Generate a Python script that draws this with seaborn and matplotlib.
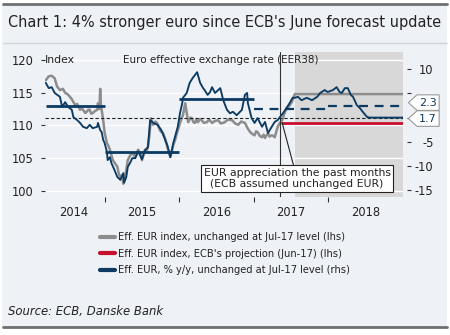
import matplotlib
matplotlib.use("Agg")
import matplotlib.pyplot as plt
import matplotlib.transforms as mtransforms
from matplotlib.lines import Line2D
from matplotlib.patches import Rectangle
from matplotlib.path import Path
import numpy as np
import pandas as pd
import seaborn as sns

# ---------------- data ----------------
# Effective EUR index (EER-38, lhs); after mid-July 2017 held at the Jul-17 level
idx_t = [2014.21, 2014.25, 2014.29, 2014.33, 2014.36, 2014.40, 2014.44, 2014.47, 2014.51, 2014.54,
         2014.56, 2014.58, 2014.61, 2014.63, 2014.67, 2014.69, 2014.71, 2014.74, 2014.76, 2014.78,
         2014.80, 2014.82, 2014.84, 2014.87, 2014.90, 2014.91, 2014.93, 2014.94, 2014.95, 2014.96, 2014.98,
         2015.00, 2015.03, 2015.05, 2015.07, 2015.09, 2015.11, 2015.14, 2015.17, 2015.19, 2015.21,
         2015.23, 2015.25, 2015.27, 2015.29, 2015.31, 2015.34, 2015.37, 2015.41, 2015.43, 2015.45,
         2015.48, 2015.50, 2015.52, 2015.54, 2015.56, 2015.58, 2015.60, 2015.62, 2015.64, 2015.65,
         2015.68, 2015.70, 2015.72, 2015.74, 2015.76, 2015.78, 2015.81, 2015.84, 2015.86, 2015.88,
         2015.90, 2015.92, 2015.95, 2015.97, 2015.99,
         2016.01, 2016.03, 2016.05, 2016.08, 2016.10, 2016.12, 2016.15, 2016.17, 2016.19, 2016.21,
         2016.23, 2016.25, 2016.28, 2016.30, 2016.33, 2016.37, 2016.40, 2016.44, 2016.48, 2016.52,
         2016.56, 2016.61, 2016.65, 2016.71, 2016.75, 2016.79, 2016.83, 2016.88, 2016.92, 2016.95,
         2016.98,
         2017.01, 2017.03, 2017.05, 2017.08, 2017.11, 2017.13, 2017.15, 2017.17, 2017.19, 2017.21,
         2017.24, 2017.26, 2017.28, 2017.30, 2017.32, 2017.35, 2017.38, 2017.41, 2017.44, 2017.47,
         2017.51, 2017.53, 2017.55, 2019.00]
idx_v = [116.9, 117.5, 117.6, 117.2, 116.0, 115.4, 115.6, 115.0, 114.7, 114.3,
         114.0, 113.6, 113.0, 113.3, 112.4, 112.6, 112.4, 111.9, 112.1, 112.4,
         112.4, 111.8, 111.9, 112.2, 112.4, 113.4, 112.5, 115.6, 112.9, 112.4, 110.8,
         108.9, 107.3, 106.9, 106.3, 105.5, 104.7, 104.2, 103.7, 102.6, 102.1,
         102.4, 101.1, 102.0, 103.2, 104.7, 105.4, 105.8, 105.2, 105.9, 106.3,
         105.6, 104.7, 105.5, 106.3, 106.0, 106.7, 108.5, 111.1, 110.4, 110.1,
         110.6, 110.4, 109.9, 109.3, 109.0, 108.9, 108.0, 106.7, 106.0, 105.2,
         106.0, 107.0, 108.0, 108.9, 109.6,
         110.4, 111.0, 111.6, 113.4, 112.0, 110.5, 111.2, 111.1, 110.5, 110.4,
         110.9, 110.5, 111.0, 110.8, 110.4, 110.5, 110.9, 110.4, 110.7, 110.8,
         110.3, 110.5, 110.9, 110.8, 110.3, 110.1, 110.6, 110.4, 109.5, 109.0,
         108.7,
         108.5, 109.1, 109.0, 108.4, 108.2, 108.6, 108.1, 108.5, 108.8, 108.3,
         108.5, 108.4, 108.2, 109.0, 109.8, 110.4, 110.8, 111.8, 112.7, 112.9,
         113.6, 114.2, 114.8, 114.8]

# Effective EUR, % y/y (rhs)
yoy_t = [2014.21, 2014.25, 2014.29, 2014.33, 2014.40, 2014.43, 2014.47, 2014.51, 2014.56, 2014.58,
         2014.63, 2014.67, 2014.71, 2014.76, 2014.80, 2014.84, 2014.90, 2014.91, 2014.94, 2014.96, 2014.98,
         2015.00, 2015.03, 2015.04, 2015.07, 2015.09, 2015.13, 2015.17, 2015.21, 2015.25, 2015.26,
         2015.29, 2015.31, 2015.34, 2015.37, 2015.41, 2015.45, 2015.50, 2015.54, 2015.58,
         2015.61, 2015.65, 2015.71, 2015.76, 2015.84, 2015.88, 2015.92, 2015.98,
         2016.01, 2016.04, 2016.05, 2016.10, 2016.14, 2016.18, 2016.24, 2016.28, 2016.32, 2016.34,
         2016.38, 2016.41, 2016.44, 2016.48, 2016.55, 2016.59, 2016.64, 2016.68, 2016.72, 2016.77,
         2016.84, 2016.88, 2016.91, 2016.92, 2016.97,
         2017.01, 2017.05, 2017.11, 2017.15, 2017.19, 2017.24, 2017.28, 2017.32, 2017.39, 2017.44,
         2017.48, 2017.52,
         2017.55, 2017.59, 2017.64, 2017.71, 2017.78, 2017.85, 2017.89, 2017.95, 2017.99,
         2018.06, 2018.11, 2018.15, 2018.18, 2018.22, 2018.26, 2018.30, 2018.33, 2018.38, 2018.42,
         2018.46, 2018.52, 2018.56, 2019.00]
yoy_v = [7.2, 6.1, 6.3, 5.1, 4.3, 2.2, 3.2, 2.2, 1.6, 0.1,
         -0.5, -1.1, -1.9, -2.2, -1.5, -2.2, -1.9, -1.1, -2.6, -3.0, -4.6,
         -5.3, -7.1, -8.8, -8.2, -9.4, -10.8, -12.3, -12.9, -11.5, -13.5,
         -12.3, -10.2, -9.4, -8.4, -8.4, -7.0, -8.6, -6.8, -6.1,
         -0.5, -1.1, -1.5, -2.6, -5.7, -8.2, -5.3, -1.9,
         0.9, 3.0, 4.1, 5.1, 7.2, 8.2, 9.4, 7.2, 6.1, 5.7,
         4.7, 5.2, 6.3, 5.1, 6.1, 3.6, 1.6, 0.9, 1.2, 0.5,
         1.6, 4.7, 5.1, 3.0, -0.1,
         -1.1, -0.1, -1.9, -0.9, -3.2, -1.9, -0.9, -0.5, 0.9, 2.0,
         3.0, 4.1,
         4.1, 4.3, 3.6, 4.1, 3.6, 4.3, 5.1, 5.7, 5.3,
         5.7, 6.3, 5.3, 5.1, 6.1, 6.1, 4.7, 4.3, 2.6, 2.0,
         1.2, 0.1, 0.0, 0.0]

# ECB's June-17 projection of the index (flat from the cut-off date)
ecb_t = [2017.38, 2019.00]
ecb_v = [110.4, 110.4]

# annual averages of the y/y rate: actual years and years with unchanged EUR
avg_start = [2014.21, 2015.0, 2016.0]
avg_end = [2015.0, 2016.0, 2017.0]
avg_vals = [2.4, -7.1, 3.8]
proj_start = [2017.0, 2018.0]
proj_end = [2018.0, 2019.0]
proj_vals = [1.7, 2.3]
proj_labels = ["1.7", "2.3"]

cutoff = 2017.35         # ECB projection cut-off
flat_from = 2017.55      # start of the unchanged-EUR period
x_end = 2019.0

year_labels = ["2014", "2015", "2016", "2017", "2018"]
year_label_pos = [2014.58, 2015.5, 2016.5, 2017.5, 2018.5]
year_bounds = [2015, 2016, 2017, 2018]
lhs_ticks = [100, 105, 110, 115, 120]
rhs_ticks = [-15, -10, -5, 0, 5, 10]
rhs_shown = ["-15", "-10", "-5", "", "", "10"]   # 0 and 5 sit under the value tags

# ---------------- style ----------------
BG = "#eef1f5"
GREY = "#8c8c8c"
RED = "#c8102e"
NAVY = "#0b3a63"
TXT = "#222222"
SHADE = "#d8d8d8"

sns.set_theme(style="white")
plt.rcParams["font.family"] = ["DejaVu Sans"]
plt.rcParams["axes.unicode_minus"] = False

fig = plt.figure(figsize=(4.5, 3.35), dpi=100, facecolor="white")

# panel background and rules
fig.patches.append(Rectangle((2 / 450, 1 - 327 / 335), 445 / 450, 323 / 335,
                             transform=fig.transFigure, facecolor=BG, edgecolor="none", zorder=-10))
fig.add_artist(Line2D([3 / 450, 447 / 450], [1 - 4 / 335] * 2, transform=fig.transFigure,
                      color="#6f6f6f", lw=2))
fig.add_artist(Line2D([3 / 450, 447 / 450], [1 - 327 / 335] * 2, transform=fig.transFigure,
                      color="#6f6f6f", lw=2))
fig.add_artist(Line2D([3 / 450, 447 / 450], [1 - 43 / 335] * 2, transform=fig.transFigure,
                      color="#d0d3d8", lw=1))

fig.text(8 / 450, 1 - 22 / 335, "Chart 1: 4% stronger euro since ECB's June forecast update",
         ha="left", va="center", fontsize=10.45, color=TXT)
fig.text(8 / 450, 1 - 312 / 335, "Source: ECB, Danske Bank", ha="left", va="center",
         fontsize=8.4, style="italic", color=TXT)

ax = fig.add_axes([45 / 450, 1 - 197 / 335, 358 / 450, 145 / 335])
ax.set_facecolor("none")
ax2 = ax.twinx()

# shaded unchanged-EUR period and white grid
ax.axvspan(flat_from, x_end, color=SHADE, zorder=0, lw=0)
ax.set_axisbelow(True)
ax.yaxis.grid(True, color="white", lw=1)
ax.xaxis.grid(False)

idx_df = pd.DataFrame({"t": idx_t, "v": idx_v})
ecb_df = pd.DataFrame({"t": ecb_t, "v": ecb_v})
yoy_df = pd.DataFrame({"t": yoy_t, "v": yoy_v})

sns.lineplot(data=idx_df, x="t", y="v", ax=ax, color=GREY, lw=1.8, estimator=None, sort=False)
sns.lineplot(data=ecb_df, x="t", y="v", ax=ax, color=RED, lw=2.0, estimator=None, sort=False)
ax.axvline(cutoff, color="#333333", lw=0.8, zorder=3)

ax2.axhline(0, color="#222222", lw=0.8, ls=(0, (3, 2)), zorder=1)
sns.lineplot(data=yoy_df, x="t", y="v", ax=ax2, color=NAVY, lw=1.35, estimator=None, sort=False)
ax2.hlines(avg_vals, avg_start, avg_end, color=NAVY, lw=2.0)
ax2.hlines(proj_vals, proj_start, proj_end, color=NAVY, lw=1.6, linestyles=[(0, (4, 3))])

# limits and ticks
ax.set_xlim(2014.2, x_end)
ax.set_ylim(99.08, 121.22)
ax2.set_ylim(-16.44, 13.58)
for a in (ax, ax2):
    a.set_xlabel("")
    a.set_ylabel("")
    for s in a.spines.values():
        s.set_visible(False)

ax.set_xticks(year_bounds)
ax.set_xticklabels([])
ax.set_xticks(year_label_pos, minor=True)
ax.set_xticklabels(year_labels, minor=True)
ax.tick_params(axis="x", which="major", length=3.6, width=0.8, color="#333333", bottom=True)
ax.tick_params(axis="x", which="minor", length=0, pad=6.5, labelsize=8.3, labelcolor=TXT)

ax.set_yticks(lhs_ticks)
ax.set_yticklabels([str(v) for v in lhs_ticks])
ax.tick_params(axis="y", left=True, length=2.6, width=0.8, color="#333333", pad=5.5,
               labelsize=8.3, labelcolor=TXT)

ax2.spines["right"].set_position(("outward", 2.9))
ax2.set_yticks(rhs_ticks)
ax2.set_yticklabels(rhs_shown)
ax2.tick_params(axis="y", right=True, length=2.6, width=0.8, color="#333333", pad=16.5,
                labelsize=8.3, labelcolor=TXT)
for lab in ax2.get_yticklabels():
    lab.set_horizontalalignment("right")

# axis headers
ax.text(0.0, 0.945, "Index", transform=ax.transAxes, ha="left", va="center", fontsize=7.8, color=TXT)
ax.text(0.49, 0.945, "Euro effective exchange rate (EER38)", transform=ax.transAxes,
        ha="center", va="center", fontsize=7.5, color=TXT, zorder=5)


# tag-shaped label box pointing left
def tag_box(x0, y0, width, height, mutation_size):
    padx = 0.2 * mutation_size
    pady = 0.25 * mutation_size
    x0, y0 = x0 - padx, y0 - pady
    w, h = width + 2 * padx, height + 2 * pady
    tip = 0.55 * h
    verts = [(x0, y0), (x0 + w, y0), (x0 + w, y0 + h), (x0, y0 + h),
             (x0 - tip, y0 + h / 2), (x0, y0)]
    codes = [Path.MOVETO] + [Path.LINETO] * 4 + [Path.CLOSEPOLY]
    return Path(verts, codes)


tag_y = {"2.3": 3.1, "1.7": -0.2}
blend = mtransforms.blended_transform_factory(ax2.transAxes, ax2.transData)
for lab in proj_labels:
    ax2.text(1.07, tag_y[lab], lab, transform=blend, ha="center", va="center",
             fontsize=8, color=NAVY, clip_on=False, zorder=10,
             bbox=dict(boxstyle=tag_box, facecolor="white", edgecolor="#9a9a9a", lw=0.8))

# callout
ax2.annotate("EUR appreciation the past months\n(ECB assumed unchanged EUR)",
             xy=(ecb_t[0], ecb_v[0]), xycoords=ax.transData,
             xytext=(0.704, 0.128), textcoords="axes fraction",
             ha="center", va="center", fontsize=7.8, color=TXT, zorder=12, linespacing=1.15,
             bbox=dict(boxstyle="square,pad=0.25", facecolor="white", edgecolor="#222222", lw=0.8),
             arrowprops=dict(arrowstyle="-", color="#222222", lw=0.8, shrinkA=0, shrinkB=0))

# legend
handles = [Line2D([], [], color=GREY, lw=3),
           Line2D([], [], color=RED, lw=3),
           Line2D([], [], color=NAVY, lw=3)]
labels = ["Eff. EUR index, unchanged at Jul-17 level (lhs)",
          "Eff. EUR index, ECB's projection (Jun-17) (lhs)",
          "Eff. EUR, % y/y, unchanged at Jul-17 level (rhs)"]
fig.legend(handles, labels, loc="upper left", bbox_to_anchor=(100 / 450, 1 - 232 / 335),
           frameon=False, fontsize=7.1, handlelength=1.5, handletextpad=0.3,
           labelspacing=0.68, borderpad=0, borderaxespad=0, labelcolor=TXT)

fig.savefig("out.png", dpi=100, facecolor=fig.get_facecolor())
